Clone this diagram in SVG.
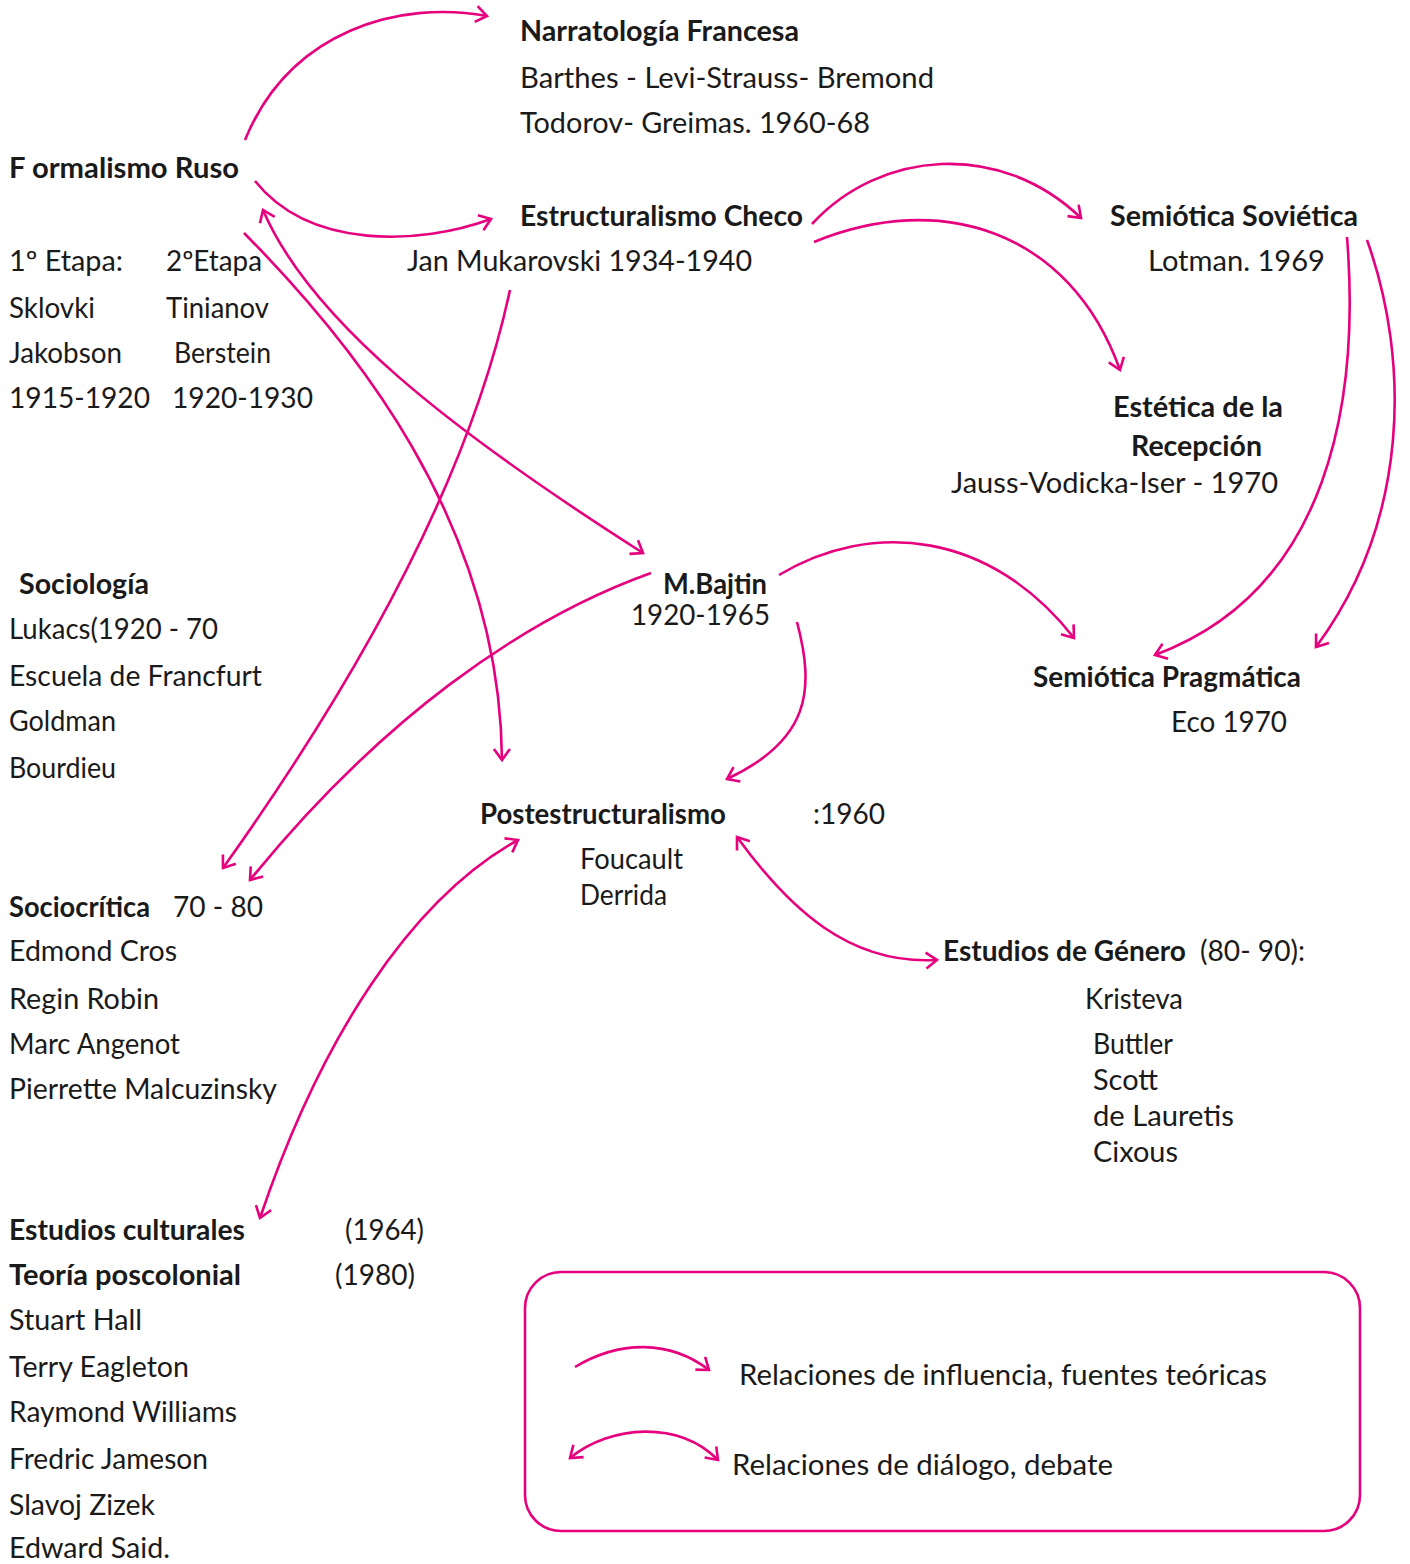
<svg xmlns="http://www.w3.org/2000/svg" width="1410" height="1564" viewBox="0 0 1410 1564">
<style>
text{font-family:"Lato","Open Sans","Liberation Sans",sans-serif;font-size:28px;fill:#1a1a1a}
.b{font-weight:bold}
.c{fill:none;stroke:#E6007E;stroke-width:2.6}
.box{fill:none;stroke:#E6007E;stroke-width:2.6}
</style>
<defs>
<marker id="ah" markerUnits="userSpaceOnUse" markerWidth="20" markerHeight="20" viewBox="0 0 20 20" refX="15" refY="10" orient="auto-start-reverse">
<path d="M4,2 L15,10 L4,18" fill="none" stroke="#E6007E" stroke-width="2.6"/>
</marker>
</defs>
<rect width="1410" height="1564" fill="#ffffff"/>
<g id="connectors">
<path class="c" d="M245,140 C290,30 400,0 487,16" marker-end="url(#ah)"/>
<path class="c" d="M255,181 C310,250 420,245 491,219" marker-end="url(#ah)"/>
<path class="c" d="M263,210 C310,320 450,430 643,553" marker-start="url(#ah)" marker-end="url(#ah)"/>
<path class="c" d="M244,233 C350,340 500,520 502,760" marker-end="url(#ah)"/>
<path class="c" d="M510,290 C480,430 400,620 223,868" marker-end="url(#ah)"/>
<path class="c" d="M651,573 C520,620 380,720 250,880" marker-end="url(#ah)"/>
<path class="c" d="M812,224 C880,150 1000,140 1081,218" marker-end="url(#ah)"/>
<path class="c" d="M814,242 C940,190 1070,230 1120,370" marker-end="url(#ah)"/>
<path class="c" d="M1347,237 C1360,400 1330,590 1155,655" marker-end="url(#ah)"/>
<path class="c" d="M1367,240 C1410,360 1410,520 1316,647" marker-end="url(#ah)"/>
<path class="c" d="M779,575 C870,520 990,530 1074,638" marker-end="url(#ah)"/>
<path class="c" d="M797,622 C815,690 810,740 727,779" marker-end="url(#ah)"/>
<path class="c" d="M737,837 C790,910 850,965 937,960" marker-start="url(#ah)" marker-end="url(#ah)"/>
<path class="c" d="M518,840 C410,900 320,1040 260,1218" marker-start="url(#ah)" marker-end="url(#ah)"/>
</g>
<g id="narratologia">
<text class="b" x="520" y="41" textLength="279" lengthAdjust="spacingAndGlyphs">Narratología Francesa</text>
<text x="520" y="88" textLength="414" lengthAdjust="spacingAndGlyphs">Barthes - Levi-Strauss- Bremond</text>
<text x="520" y="133" textLength="350" lengthAdjust="spacingAndGlyphs">Todorov- Greimas. 1960-68</text>
</g>
<g id="formalismo">
<text class="b" x="9" y="178" textLength="230" lengthAdjust="spacingAndGlyphs">F ormalismo  Ruso</text>
<text x="9" y="271" textLength="114" lengthAdjust="spacingAndGlyphs">1º Etapa:</text>
<text x="166" y="271" textLength="96" lengthAdjust="spacingAndGlyphs">2ºEtapa</text>
<text x="9" y="318" textLength="86" lengthAdjust="spacingAndGlyphs">Sklovki</text>
<text x="166" y="318" textLength="103" lengthAdjust="spacingAndGlyphs">Tinianov</text>
<text x="9" y="363" textLength="113" lengthAdjust="spacingAndGlyphs">Jakobson</text>
<text x="174" y="363" textLength="97" lengthAdjust="spacingAndGlyphs">Berstein</text>
<text x="9" y="408" textLength="141" lengthAdjust="spacingAndGlyphs">1915-1920</text>
<text x="172" y="408" textLength="141" lengthAdjust="spacingAndGlyphs">1920-1930</text>
</g>
<g id="estructuralismo">
<text class="b" x="520" y="226" textLength="283" lengthAdjust="spacingAndGlyphs">Estructuralismo  Checo</text>
<text x="407" y="271" textLength="345" lengthAdjust="spacingAndGlyphs">Jan Mukarovski  1934-1940</text>
</g>
<g id="semiotica-sovietica">
<text class="b" x="1110" y="226" textLength="248" lengthAdjust="spacingAndGlyphs">Semiótica Soviética</text>
<text x="1148" y="271" textLength="177" lengthAdjust="spacingAndGlyphs">Lotman.  1969</text>
</g>
<g id="estetica">
<text class="b" x="1113" y="417" textLength="170" lengthAdjust="spacingAndGlyphs">Estética de la</text>
<text class="b" x="1131" y="456" textLength="131" lengthAdjust="spacingAndGlyphs">Recepción</text>
<text x="951" y="493" textLength="327" lengthAdjust="spacingAndGlyphs">Jauss-Vodicka-Iser - 1970</text>
</g>
<g id="sociologia">
<text class="b" x="19" y="594" textLength="130" lengthAdjust="spacingAndGlyphs">Sociología</text>
<text x="9" y="639" textLength="209" lengthAdjust="spacingAndGlyphs">Lukacs(1920 - 70</text>
<text x="9" y="686" textLength="253" lengthAdjust="spacingAndGlyphs">Escuela  de Francfurt</text>
<text x="9" y="731" textLength="107" lengthAdjust="spacingAndGlyphs">Goldman</text>
<text x="9" y="778" textLength="107" lengthAdjust="spacingAndGlyphs">Bourdieu</text>
</g>
<g id="bajtin">
<text class="b" x="663" y="594" textLength="104" lengthAdjust="spacingAndGlyphs">M.Bajtin</text>
<text x="631" y="625" textLength="139" lengthAdjust="spacingAndGlyphs">1920-1965</text>
</g>
<g id="semiotica-pragmatica">
<text class="b" x="1033" y="687" textLength="268" lengthAdjust="spacingAndGlyphs">Semiótica Pragmática</text>
<text x="1171" y="732" textLength="116" lengthAdjust="spacingAndGlyphs">Eco 1970</text>
</g>
<g id="postestructuralismo">
<text class="b" x="480" y="824" textLength="246" lengthAdjust="spacingAndGlyphs">Postestructuralismo</text>
<text x="813" y="824" textLength="72" lengthAdjust="spacingAndGlyphs">:1960</text>
<text x="580" y="869" textLength="103" lengthAdjust="spacingAndGlyphs">Foucault</text>
<text x="580" y="905" textLength="87" lengthAdjust="spacingAndGlyphs">Derrida</text>
</g>
<g id="sociocritica">
<text class="b" x="9" y="917" textLength="141" lengthAdjust="spacingAndGlyphs">Sociocrítica</text>
<text x="173" y="917" textLength="90" lengthAdjust="spacingAndGlyphs">70  - 80</text>
<text x="9" y="961" textLength="168" lengthAdjust="spacingAndGlyphs">Edmond  Cros</text>
<text x="9" y="1009" textLength="150" lengthAdjust="spacingAndGlyphs">Regin  Robin</text>
<text x="9" y="1054" textLength="171" lengthAdjust="spacingAndGlyphs">Marc Angenot</text>
<text x="9" y="1099" textLength="268" lengthAdjust="spacingAndGlyphs">Pierrette  Malcuzinsky</text>
</g>
<g id="genero">
<text class="b" x="943" y="961" textLength="243" lengthAdjust="spacingAndGlyphs">Estudios de Género</text>
<text x="1200" y="961" textLength="105" lengthAdjust="spacingAndGlyphs">(80- 90):</text>
<text x="1085" y="1009" textLength="98" lengthAdjust="spacingAndGlyphs">Kristeva</text>
<text x="1093" y="1054" textLength="80" lengthAdjust="spacingAndGlyphs">Buttler</text>
<text x="1093" y="1090" textLength="65" lengthAdjust="spacingAndGlyphs">Scott</text>
<text x="1093" y="1126" textLength="141" lengthAdjust="spacingAndGlyphs">de Lauretis</text>
<text x="1093" y="1162" textLength="85" lengthAdjust="spacingAndGlyphs">Cixous</text>
</g>
<g id="estudios-culturales">
<text class="b" x="9" y="1240" textLength="236" lengthAdjust="spacingAndGlyphs">Estudios  culturales</text>
<text x="345" y="1240" textLength="79" lengthAdjust="spacingAndGlyphs">(1964)</text>
<text class="b" x="9" y="1285" textLength="232" lengthAdjust="spacingAndGlyphs">Teoría poscolonial</text>
<text x="335" y="1285" textLength="80" lengthAdjust="spacingAndGlyphs">(1980)</text>
<text x="9" y="1330" textLength="133" lengthAdjust="spacingAndGlyphs">Stuart Hall</text>
<text x="9" y="1377" textLength="180" lengthAdjust="spacingAndGlyphs">Terry  Eagleton</text>
<text x="9" y="1422" textLength="228" lengthAdjust="spacingAndGlyphs">Raymond  Williams</text>
<text x="9" y="1469" textLength="199" lengthAdjust="spacingAndGlyphs">Fredric Jameson</text>
<text x="9" y="1515" textLength="146" lengthAdjust="spacingAndGlyphs">Slavoj  Zizek</text>
<text x="9" y="1558" textLength="161" lengthAdjust="spacingAndGlyphs">Edward  Said.</text>
</g>
<g id="legend">
<rect class="box" x="525" y="1272" width="835" height="259" rx="36" ry="36"/>
<path class="c" d="M575,1367 C620,1340 670,1340 709,1370" marker-end="url(#ah)"/>
<path class="c" d="M570,1458 C610,1425 680,1420 718,1460" marker-start="url(#ah)" marker-end="url(#ah)"/>
<text x="739" y="1385" textLength="528" lengthAdjust="spacingAndGlyphs">Relaciones  de influencia,  fuentes  teóricas</text>
<text x="732" y="1475" textLength="381" lengthAdjust="spacingAndGlyphs">Relaciones  de diálogo,  debate</text>
</g>
</svg>
